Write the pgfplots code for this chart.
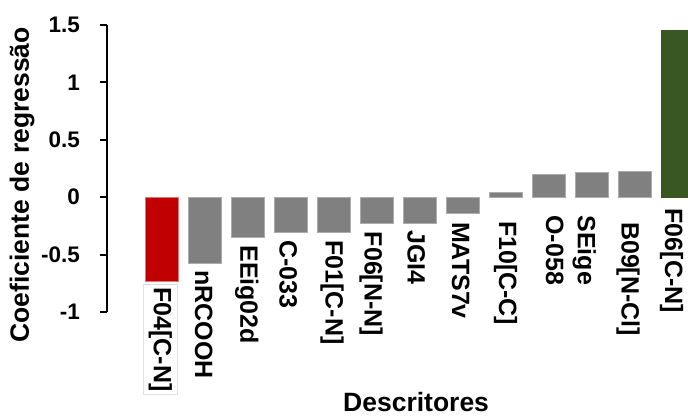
\documentclass[border=0pt]{standalone}
\usepackage{pgfplots}
\pgfplotsset{compat=1.18}
\usepackage{pgfplotstable}
\usepackage{fontspec}
\setmainfont{Liberation Sans}

\definecolor{barred}{RGB}{192,0,0}
\definecolor{rededge}{RGB}{222,120,120}
\definecolor{bargray}{RGB}{128,128,128}
\definecolor{grayedge}{RGB}{172,172,172}
\definecolor{bargreen}{RGB}{56,87,35}

\newcommand\tickfont{\fontsize{22.5}{22.5}\selectfont\bfseries}
\newcommand\lblfont{\fontsize{25}{25}\selectfont\bfseries}
\newcommand\titlefont{\fontsize{26.5}{26.5}\selectfont\bfseries}

% regression coefficients per descriptor (position, value)
\pgfplotstableread{
x y
0 -0.730
}\negmain
\pgfplotstableread{
x y
1 -0.577
2 -0.351
3 -0.311
4 -0.311
5 -0.229
6 -0.229
7 -0.142
8 0.041
9 0.198
10 0.215
11 0.226
}\others
\pgfplotstableread{
x y
12 1.453
}\posmain

\begin{document}
\begin{tikzpicture}
\begin{axis}[
  scale only axis,
  width=581pt, height=287pt,
  xmin=-1.279, xmax=12.233,
  ymin=-1, ymax=1.5,
  enlargelimits=false,
  clip=false,
  axis x line=none,
  axis y line*=left,
  axis line style={line width=2pt, black},
  ytick={-1,-0.5,0,0.5,1,1.5},
  yticklabels={-1,-0.5,0,0.5,1,1.5},
  tick align=outside,
  major tick length=7pt,
  tick style={line width=2pt, black},
  yticklabel style={font=\tickfont, inner sep=0pt, anchor=east, xshift=-20pt},
  ylabel={Coeficiente de regressão},
  every axis y label/.style={at={(axis description cs:-0.146,0.443)}, anchor=center, rotate=90, font=\titlefont},
  ybar, bar width=33pt, bar shift=0pt,
]
\addplot[fill=barred, draw=rededge, line width=1pt] table {\negmain};
\addplot[fill=bargray, draw=grayedge, line width=1pt] table {\others};
\addplot[fill=bargreen, draw=bargreen, line width=1pt] table {\posmain};

% descriptor names below each bar
\node[rotate=-90, anchor=west, font=\lblfont, fill=white, draw=black!12, inner xsep=3pt, inner ysep=5pt] at (axis cs:-0.04,-0.757) {F04[C-N]};
\node[rotate=-90, anchor=west, font=\lblfont, inner sep=0pt] at (axis cs:0.97,-0.635) {nRCOOH};
\node[rotate=-90, anchor=west, font=\lblfont, inner sep=0pt] at (axis cs:1.97,-0.418) {EEig02d};
\node[rotate=-90, anchor=west, font=\lblfont, inner sep=0pt] at (axis cs:2.935,-0.374) {C-033};
\node[rotate=-90, anchor=west, font=\lblfont, inner sep=0pt] at (axis cs:3.958,-0.374) {F01[C-N]};
\node[rotate=-90, anchor=west, font=\lblfont, inner sep=0pt] at (axis cs:4.865,-0.300) {F06[N-N]};
\node[rotate=-90, anchor=west, font=\lblfont, inner sep=0pt] at (axis cs:5.912,-0.287) {JGI4};
\node[rotate=-90, anchor=west, font=\lblfont, inner sep=0pt] at (axis cs:6.947,-0.215) {MATS7v};
\node[rotate=-90, anchor=west, font=\lblfont, inner sep=0pt] at (axis cs:7.993,-0.206) {F10[C-C]};
\node[rotate=-90, anchor=west, font=\lblfont, inner sep=0pt] at (axis cs:9.133,-0.157) {O-058};
\node[rotate=-90, anchor=west, font=\lblfont, inner sep=0pt] at (axis cs:9.819,-0.157) {SEige};
\node[rotate=-90, anchor=west, font=\lblfont, inner sep=0pt] at (axis cs:10.842,-0.215) {B09[N-Cl]};
\node[rotate=-90, anchor=west, font=\lblfont, inner sep=0pt] at (axis cs:11.853,-0.098) {F06[C-N]};

% horizontal axis title
\node[anchor=base, font=\titlefont, inner sep=0pt] at (axis description cs:0.532,-0.347) {Descritores};
\end{axis}
\pgfresetboundingbox
\useasboundingbox (-107pt,-104pt) rectangle (581pt,312pt);
\end{tikzpicture}
\end{document}
